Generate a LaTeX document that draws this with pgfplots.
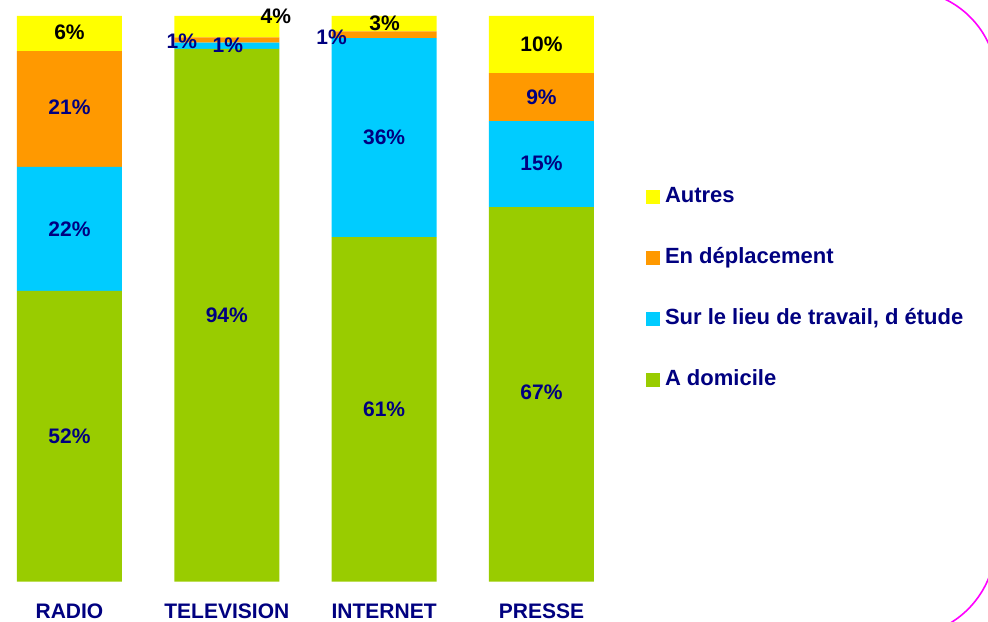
\documentclass[border=0pt]{standalone}
\usepackage{fontspec}
\setmainfont{Liberation Sans}
\usepackage{pgfplots}
\pgfplotsset{compat=1.18}
\definecolor{cyel}{HTML}{FFFF00}
\definecolor{corg}{HTML}{FF9900}
\definecolor{ccyan}{HTML}{00CCFF}
\definecolor{cgrn}{HTML}{99CC00}
\definecolor{navy}{HTML}{000080}
\definecolor{pinkline}{HTML}{FF00FF}
\newcommand{\lblfont}{\fontsize{21bp}{25bp}\selectfont\bfseries}
\newcommand{\legfont}{\fontsize{22bp}{26bp}\selectfont\bfseries}
\begin{document}
\begin{tikzpicture}
\pgfplotsset{
  common/.style={x=157.33bp, y=5.655bp, xmin=-0.4417, xmax=3.44, ymin=0, ymax=100,
    at={(0bp,40.5bp)}, anchor=south west, clip=false,
    axis line style={draw=none}, ymajorticks=false, tick style={draw=none}}
}
\begin{axis}[common, ybar stacked, bar width=105bp,
  xtick={0,1,2,3}, xticklabels={RADIO,TELEVISION,INTERNET,PRESSE},
  xticklabel style={font=\lblfont, text=navy, anchor=base, yshift=-36.5bp},
  reverse legend,
  legend cell align=left,
  legend image code/.code={\fill[#1] (0bp,-7bp) rectangle (14bp,7bp);},
  legend style={draw=none, fill=none, at={(1.0578,0.6976)}, anchor=north west,
    font=\legfont, text=navy, inner sep=0pt, outer sep=0pt,
    row sep=42.3bp, column sep=5bp,
    nodes={inner sep=0pt, text height=15bp, text depth=4bp}},
]
\addplot[fill=cgrn, draw=none] coordinates {(0,51.4) (1,94.2) (2,60.9) (3,66.2)};
\addlegendentry{A domicile}
\addplot[fill=ccyan, draw=none] coordinates {(0,21.9) (1,1.1) (2,35.2) (3,15.2)};
\addlegendentry{Sur le lieu de travail, d étude}
\addplot[fill=corg, draw=none] coordinates {(0,20.5) (1,0.9) (2,1.2) (3,8.5)};
\addlegendentry{En déplacement}
\addplot[fill=cyel, draw=none] coordinates {(0,6.2) (1,3.8) (2,2.7) (3,10.1)};
\addlegendentry{Autres}
\end{axis}
\begin{axis}[common, hide axis]
\addplot[only marks, mark=none, nodes near coords={\pgfplotspointmeta\%},
  point meta=explicit symbolic,
  nodes near coords style={anchor=center, font=\lblfont, text=navy, inner sep=0pt}]
  table[meta=l] {
x y l
0 25.7 52
0 62.35 22
0 83.9 21
1 47.1 94
1.006 94.75 1
0.714 95.5 1
2 30.5 61
2 78.6 36
1.666 96.3 1
3 33.5 67
3 74.0 15
3 85.7 9
};
\addplot[only marks, mark=none, nodes near coords={\pgfplotspointmeta\%},
  point meta=explicit symbolic,
  nodes near coords style={anchor=center, font=\lblfont, text=black, inner sep=0pt}]
  table[meta=l] {
x y l
0 97.1 6
1.311 99.9 4
2.003 98.7 3
3 95.0 10
};
\end{axis}
\draw[pinkline, line width=1.6bp] (905bp,540bp) ++(75:92bp) arc[start angle=75, end angle=10, radius=92bp];
\draw[pinkline, line width=1.6bp] (902bp,79bp) ++(-10:93.5bp) arc[start angle=-10, end angle=-70, radius=93.5bp];
\pgfresetboundingbox
\useasboundingbox (0,0) rectangle (988bp,622bp);
\end{tikzpicture}
\end{document}
